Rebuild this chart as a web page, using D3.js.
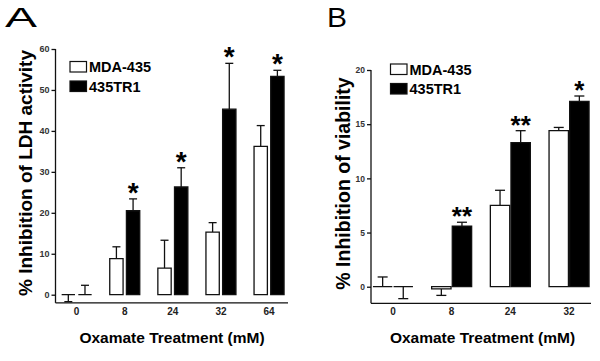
<!DOCTYPE html>
<html lang="en">
<head>
<meta charset="UTF-8">
<title>Oxamate inhibition</title>
<script src="https://d3js.org/d3.v7.min.js"></script>
<style>
  body { margin: 0; background: #fff; }
  svg { display: block; font-family: "Liberation Sans", Arial, sans-serif; }
</style>
</head>
<body>
<svg id="chart" width="600" height="361"></svg>
<script>
// panel A - LDH activity
const doseA = ["0", "8", "24", "32", "64"];
const mdaA = [0, 8.8, 6.5, 15.3, 36.2];
const mdaErrA = [-1.7, 11.7, 13.3, 17.6, 41.3];   // end point of error bar
const trA = [0, 20.5, 26.3, 45.3, 53.3];
const trErrA = [2.3, 23.4, 31.0, 56.5, 54.8];
const sigA = ["", "*", "*", "*", "*"];
const ticksA = [0, 10, 20, 30, 40, 50, 60];

// panel B - viability
const doseB = ["0", "8", "24", "32"];
const mdaB = [0, -0.2, 7.5, 14.4];
const mdaErrB = [0.9, -0.8, 8.9, 14.7];
const trB = [0, 5.6, 13.3, 17.1];
const trErrB = [-1.1, 5.95, 14.4, 17.6];
const sigB = ["", "**", "**", "*"];
const ticksB = [0, 5, 10, 15, 20];

const seriesNames = ["MDA-435", "435TR1"];
const ink = "#111";

const svg = d3.select("#chart");

function drawPanel(p) {
    const g = svg.append("g");

    const y = d3.scaleLinear().domain(p.yDomain).range(p.yRange);
    const x = d3.scaleBand().domain(p.doses).range(p.xRange).padding(0);
    const inner = d3.scaleBand().domain(seriesNames)
        .range([-p.pairW / 2, p.pairW / 2]).paddingInner(p.gap);

    // y axis
    const ya = g.append("g")
        .attr("transform", `translate(${p.axisX},0)`)
        .call(d3.axisLeft(y).tickValues(p.ticks).tickSize(4).tickPadding(2));
    ya.select(".domain").remove();
    ya.selectAll("line").attr("stroke", ink).attr("stroke-width", 1.3);
    ya.selectAll("text").attr("font-size", p.yTickFont).attr("font-weight", "bold").attr("fill", "#333");
    g.append("line")
        .attr("x1", p.axisX).attr("x2", p.axisX)
        .attr("y1", y(p.ticks[p.ticks.length - 1])).attr("y2", y(p.yDomain[0]))
        .attr("stroke", ink).attr("stroke-width", 1.3);

    // x axis
    const xa = g.append("g")
        .attr("transform", `translate(0,${y(p.yDomain[0])})`)
        .call(d3.axisBottom(x).tickSize(0).tickPadding(5));
    xa.select(".domain").remove();
    xa.selectAll("text").attr("font-size", 10).attr("font-weight", "bold").attr("fill", "#222");
    g.append("line")
        .attr("x1", p.axisX).attr("x2", p.axisEnd)
        .attr("y1", y(p.yDomain[0])).attr("y2", y(p.yDomain[0]))
        .attr("stroke", ink).attr("stroke-width", 1.3);

    const series = [
        { name: seriesNames[0], vals: p.mda, errs: p.mdaErr, fill: "#fff" },
        { name: seriesNames[1], vals: p.tr, errs: p.trErr, fill: "#000" }
    ];

    series.forEach(s => {
        const rows = p.doses.map((d, i) => ({ d, v: s.vals[i], e: s.errs[i] }));
        const cx = r => x(r.d) + x.bandwidth() / 2 + inner(s.name) + inner.bandwidth() / 2;

        // error bars (one sided, drawn first so the bar covers the base)
        const eb = g.append("g").selectAll("g").data(rows).join("g");
        eb.append("line")
            .attr("x1", cx).attr("x2", cx)
            .attr("y1", r => y(r.v)).attr("y2", r => y(r.e))
            .attr("stroke", ink).attr("stroke-width", 1.3);
        eb.append("line")
            .attr("x1", r => cx(r) - p.cap / 2).attr("x2", r => cx(r) + p.cap / 2)
            .attr("y1", r => y(r.e)).attr("y2", r => y(r.e))
            .attr("stroke", ink).attr("stroke-width", 1.3);

        // bars as closed paths so zero height still shows a line
        g.append("g").selectAll("path").data(rows).join("path")
            .attr("d", r => {
                const x0 = x(r.d) + x.bandwidth() / 2 + inner(s.name);
                const w = inner.bandwidth();
                return `M${x0},${y(0)}V${y(r.v)}H${x0 + w}V${y(0)}Z`;
            })
            .attr("fill", s.fill)
            .attr("stroke", ink).attr("stroke-width", 1.3);
    });

    // significance stars over the 435TR1 bars
    g.append("g").selectAll("text").data(p.doses.map((d, i) => ({ d, s: p.sig[i], e: p.trErr[i] })))
        .join("text")
        .attr("x", r => x(r.d) + x.bandwidth() / 2 + inner(seriesNames[1]) + inner.bandwidth() / 2)
        .attr("y", r => y(r.e) + 3)
        .attr("text-anchor", "middle")
        .attr("font-size", p.starFont).attr("font-weight", "bold")
        .text(r => r.s);

    // legend
    const lg = g.append("g").attr("transform", `translate(${p.legX},${p.legY})`);
    seriesNames.forEach((n, i) => {
        lg.append("rect")
            .attr("x", 0).attr("y", i * 19.5).attr("width", 16.5).attr("height", 10.5)
            .attr("fill", i ? "#000" : "#fff").attr("stroke", ink).attr("stroke-width", 1.2);
        lg.append("text")
            .attr("x", 19).attr("y", i * 19.5 + 10.5)
            .attr("font-size", 14.5).attr("font-weight", "bold")
            .text(n);
    });

    // axis titles
    g.append("text")
        .attr("transform", `translate(${p.yTitleX},${p.yTitleY}) rotate(-90)`)
        .attr("text-anchor", "middle")
        .attr("font-size", p.yTitleFont).attr("font-weight", "bold")
        .text(p.yTitle);
    g.append("text")
        .attr("x", p.xTitleX).attr("y", 342.5)
        .attr("text-anchor", "middle")
        .attr("font-size", 15.5).attr("font-weight", "bold")
        .text("Oxamate Treatment (mM)");

    // panel letter
    g.append("text")
        .attr("x", p.letterX).attr("y", 27)
        .attr("font-size", 28)
        .attr("textLength", p.letterW).attr("lengthAdjust", "spacingAndGlyphs")
        .text(p.letter);
}

drawPanel({
    letter: "A", letterX: 5, letterW: 32,
    doses: doseA, mda: mdaA, mdaErr: mdaErrA, tr: trA, trErr: trErrA, sig: sigA, ticks: ticksA,
    yDomain: [-2, 60], yRange: [302.9, 49],
    xRange: [52.6, 293.1], axisX: 55.5, axisEnd: 288,
    pairW: 30, gap: 0.2, cap: 8, starFont: 28, yTickFont: 9,
    legX: 70, legY: 61.5,
    yTitle: "% Inhibition of LDH activity", yTitleX: 32, yTitleY: 173, yTitleFont: 19,
    xTitleX: 172
});

drawPanel({
    letter: "B", letterX: 327, letterW: 20,
    doses: doseB, mda: mdaB, mdaErr: mdaErrB, tr: trB, trErr: trErrB, sig: sigB, ticks: ticksB,
    yDomain: [-1.53, 20], yRange: [303.3, 70],
    xRange: [363.6, 598.4], axisX: 371, axisEnd: 591,
    pairW: 40, gap: 0.06, cap: 10, starFont: 26, yTickFont: 8.5,
    legX: 390.5, legY: 64,
    yTitle: "% Inhibition of viability", yTitleX: 350, yTitleY: 183.5, yTitleFont: 19.5,
    xTitleX: 482.5
});
</script>
</body>
</html>
